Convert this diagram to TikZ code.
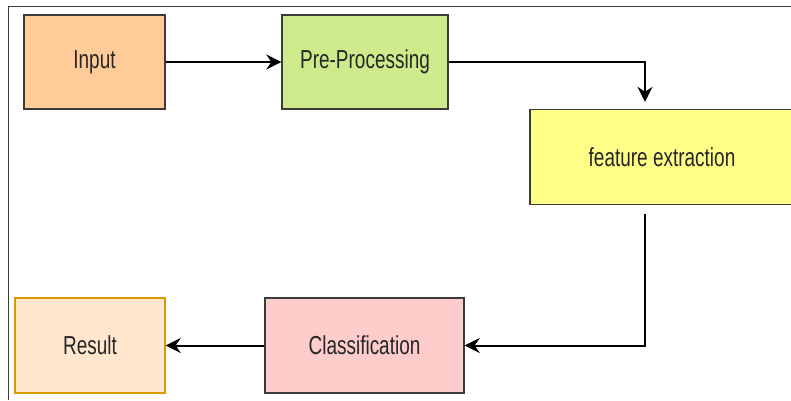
\documentclass[tikz,border=0pt]{standalone}
\usepackage{fontspec}
\setmainfont{Liberation Sans}
\usetikzlibrary{arrows.meta}
\definecolor{cInput}{HTML}{FFCC99}
\definecolor{cPre}{HTML}{CDEB8B}
\definecolor{cFeat}{HTML}{FFFF88}
\definecolor{cCls}{HTML}{FFCCCC}
\definecolor{cRes}{HTML}{FFE6CC}
\definecolor{cResLine}{HTML}{D79B00}
\definecolor{cLine}{HTML}{3A3A3A}
\definecolor{cText}{HTML}{262626}
\newcommand{\lbl}[1]{\scalebox{0.73}[1]{#1}}
\tikzset{
  box/.style={draw=cLine, line width=1.4pt, inner sep=0pt, text=cText,
    font=\fontsize{26}{30}\selectfont},
  arr/.style={line width=2pt, black, -{Stealth[length=15pt,width=15pt,inset=5pt]}},
  frame/.style={line width=1.3pt, draw=cLine}
}
\begin{document}
\begin{tikzpicture}[x=1pt,y=-1pt]
\useasboundingbox (0,0) rectangle (791,400);
\begin{scope}
\clip (0,0) rectangle (791,400);
\draw[frame] (8.5,400) -- (8.5,6.5) -- (791,6.5);
\node[box, fill=cInput, minimum width=141pt, minimum height=94pt] (in) at (94.5,62) {\lbl{Input}};
\node[box, fill=cPre, minimum width=166pt, minimum height=94pt] (pre) at (365,62) {\lbl{Pre-Processing}};
\node[box, fill=cFeat, minimum width=264pt, minimum height=95pt] (feat) at (662,157) {\lbl{feature extraction}};
\node[box, fill=cCls, minimum width=199pt, minimum height=95pt] (cls) at (364.5,345.5) {\lbl{Classification}};
\node[box, draw=cResLine, fill=cRes, minimum width=150pt, minimum height=95pt] (res) at (90,345.5) {\lbl{Result}};
\coordinate (fx) at (645,0);
\draw[arr] (in.east) -- (pre.west);
\draw[arr] (pre.east) -| ([yshift=7pt]feat.north -| fx);
\draw[arr] ([yshift=-9pt]feat.south -| fx) |- (cls.east);
\draw[arr] (cls.west) -- (res.east);
\end{scope}
\end{tikzpicture}
\end{document}
